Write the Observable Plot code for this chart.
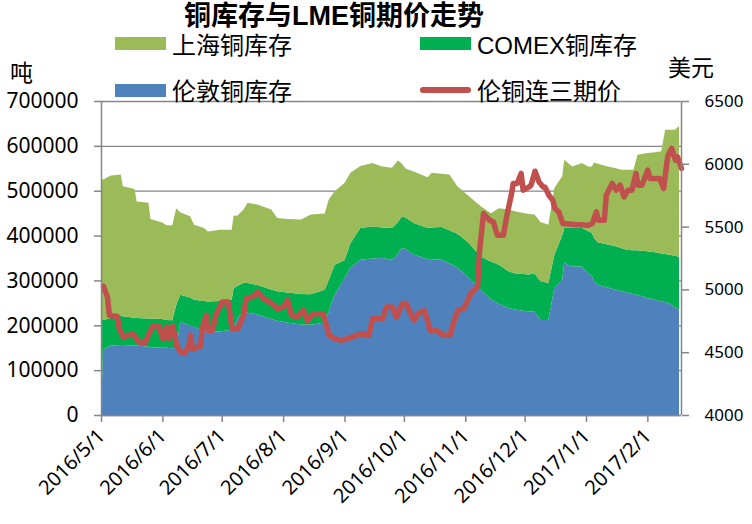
<!DOCTYPE html>
<html><head><meta charset="utf-8">
<script src="https://cdn.jsdelivr.net/npm/d3@7"></script>
<script src="https://cdn.jsdelivr.net/npm/@observablehq/plot@0.6"></script>
<style>
body{margin:0;background:#fff;}
#wrap{position:relative;width:752px;height:524px;overflow:hidden;}
#wrap svg{position:absolute;left:0;top:0;}
.t{position:absolute;white-space:nowrap;line-height:1;color:#000;font-family:'Liberation Sans Narrow','Liberation Sans','Noto Sans CJK SC',sans-serif;}
.sw{position:absolute;}
</style></head><body><div id="wrap"></div>
<script>
// stock dates (shared by the three stacked series)
const dates = ["2016-05-01","2016-05-02","2016-05-06","2016-05-11","2016-05-12","2016-05-18","2016-05-19","2016-05-25","2016-05-26","2016-06-01","2016-06-03","2016-06-06","2016-06-08","2016-06-10","2016-06-15","2016-06-17","2016-06-22","2016-06-24","2016-06-30","2016-07-06","2016-07-07","2016-07-09","2016-07-12","2016-07-14","2016-07-19","2016-07-26","2016-07-29","2016-08-03","2016-08-10","2016-08-15","2016-08-22","2016-08-24","2016-08-27","2016-09-01","2016-09-04","2016-09-09","2016-09-15","2016-09-20","2016-09-25","2016-09-28","2016-09-30","2016-10-02","2016-10-06","2016-10-13","2016-10-15","2016-10-20","2016-10-24","2016-10-28","2016-11-02","2016-11-09","2016-11-14","2016-11-18","2016-11-23","2016-11-26","2016-12-03","2016-12-06","2016-12-09","2016-12-13","2016-12-16","2016-12-20","2016-12-21","2016-12-25","2016-12-30","2017-01-02","2017-01-04","2017-01-05","2017-01-07","2017-01-12","2017-01-16","2017-01-19","2017-01-22","2017-01-25","2017-01-27","2017-02-01","2017-02-05","2017-02-08","2017-02-10","2017-02-12","2017-02-15","2017-02-17"];
// tonnes
const lmeStock = [0,145000,155000,156000,156000,155000,155000,152000,151000,150000,150000,149000,150000,207000,200000,197000,186000,186000,186000,190000,191000,216000,231000,228000,224000,214000,210000,206000,202000,201000,206000,230000,268000,305000,328000,346000,349000,350000,346000,360000,372000,370000,357000,348000,347000,346000,338000,329000,309000,279000,258000,248000,238000,235000,231000,231000,212000,212000,283000,301000,339000,331000,331000,316000,310000,300000,290000,284000,279000,276000,273000,269000,268000,261000,257000,253000,252000,249000,240000,234000];
const comexStock = [212000,67000,61000,65000,64000,62000,61000,63000,64000,64000,62000,62000,95000,61000,62000,60000,68000,67000,68000,67000,92000,72000,64000,66000,66000,66000,66000,67000,68000,68000,73000,70000,67000,40000,55000,71000,71000,68000,71000,70000,71000,70000,71000,69000,71000,73000,74000,75000,78000,74000,84000,87000,82000,81000,82000,85000,86000,82000,74000,99000,78000,86000,86000,94000,96000,95000,95000,96000,97000,96000,95000,98000,99000,104000,106000,107000,107000,108000,115000,119000];
const shfeStock = [313000,313000,318000,315000,290000,287000,260000,258000,222000,215000,211000,212000,216000,184000,181000,167000,163000,156000,159000,156000,161000,157000,163000,179000,179000,178000,163000,164000,166000,178000,170000,180000,164000,172000,157000,138000,142000,136000,134000,138000,117000,109000,115000,113000,122000,119000,124000,106000,104000,112000,108000,126000,138000,138000,135000,131000,132000,130000,149000,132000,152000,137000,145000,144000,148000,168000,175000,174000,174000,175000,179000,180000,213000,219000,223000,228000,277000,279000,281000,291000];

// LME 3-month copper price, USD
const priceDates = ["2016-05-02","2016-05-04","2016-05-05","2016-05-09","2016-05-10","2016-05-12","2016-05-14","2016-05-17","2016-05-20","2016-05-23","2016-05-25","2016-05-27","2016-05-30","2016-06-01","2016-06-03","2016-06-04","2016-06-06","2016-06-08","2016-06-10","2016-06-12","2016-06-14","2016-06-15","2016-06-16","2016-06-20","2016-06-21","2016-06-23","2016-06-24","2016-06-26","2016-06-28","2016-07-01","2016-07-04","2016-07-06","2016-07-09","2016-07-12","2016-07-13","2016-07-16","2016-07-19","2016-07-22","2016-07-26","2016-07-29","2016-08-01","2016-08-03","2016-08-05","2016-08-08","2016-08-11","2016-08-13","2016-08-16","2016-08-21","2016-08-24","2016-08-27","2016-08-30","2016-09-04","2016-09-09","2016-09-13","2016-09-15","2016-09-20","2016-09-22","2016-09-25","2016-09-27","2016-09-30","2016-10-02","2016-10-05","2016-10-06","2016-10-08","2016-10-11","2016-10-12","2016-10-14","2016-10-17","2016-10-21","2016-10-24","2016-10-26","2016-10-28","2016-10-31","2016-11-02","2016-11-04","2016-11-07","2016-11-08","2016-11-10","2016-11-13","2016-11-15","2016-11-17","2016-11-20","2016-11-22","2016-11-24","2016-11-25","2016-11-27","2016-11-29","2016-11-30","2016-12-03","2016-12-04","2016-12-06","2016-12-08","2016-12-10","2016-12-11","2016-12-13","2016-12-15","2016-12-16","2016-12-18","2016-12-20","2016-12-26","2017-01-02","2017-01-04","2017-01-06","2017-01-07","2017-01-10","2017-01-11","2017-01-14","2017-01-16","2017-01-18","2017-01-20","2017-01-22","2017-01-24","2017-01-26","2017-01-27","2017-01-29","2017-02-01","2017-02-02","2017-02-07","2017-02-09","2017-02-11","2017-02-13","2017-02-15","2017-02-16","2017-02-18"];
const lmePrice = [5029,4943,4797,4789,4691,4624,4638,4646,4585,4577,4651,4712,4712,4612,4704,4612,4712,4558,4505,4497,4545,4638,4530,4550,4704,4797,4678,4678,4811,4904,4904,4691,4691,4811,4930,4943,4983,4930,4891,4851,4864,4917,4797,4784,4837,4757,4811,4811,4638,4611,4598,4620,4651,4638,4771,4771,4864,4864,4784,4891,4891,4784,4757,4811,4837,4797,4678,4678,4638,4638,4744,4837,4851,4917,4983,5023,5316,5608,5555,5541,5435,5435,5608,5754,5848,5848,5927,5794,5820,5834,5945,5860,5820,5820,5754,5714,5648,5621,5529,5521,5515,5529,5621,5555,5555,5754,5848,5794,5834,5741,5794,5794,5927,5834,5834,5954,5887,5887,5808,6060,6126,6033,6060,5967];

const seriesNames = ["伦敦铜库存","COMEX铜库存","上海铜库存"];
const seriesColors = ["#4F81BD","#00B050","#9BBB59"];
const priceName = "伦铜连三期价";
const priceColor = "#C0504D";
const leftTicks = [0,100000,200000,300000,400000,500000,600000,700000];
const rightTicks = [4000,4500,5000,5500,6000,6500];
const monthTicks = ["2016-05-01","2016-06-01","2016-07-01","2016-08-01","2016-09-01","2016-10-01","2016-11-01","2016-12-01","2017-01-01","2017-02-01"];
const xStart = "2016-05-01", xEnd = "2017-02-18";

const rows = [];
dates.forEach((d, i) => {
  const date = new Date(d);
  rows.push({date, series: seriesNames[0], v: lmeStock[i]});
  rows.push({date, series: seriesNames[1], v: comexStock[i]});
  rows.push({date, series: seriesNames[2], v: shfeStock[i]});
});
const priceRows = priceDates.map((d, i) => ({date: new Date(d), p: lmePrice[i]}));
// price mapped onto the stock scale: 4000..6500 USD  <->  0..700000 t
const toLeft = p => (p - 4000) * 700000 / 2500;
const fromLeft = v => v * 2500 / 700000 + 4000;
const gray = "#868686";

const chart = Plot.plot({
  width: 752, height: 524,
  marginLeft: 101, marginRight: 71, marginTop: 101, marginBottom: 109,
  style: {fontFamily: "'Noto Sans', sans-serif", color: "#000", background: "transparent", overflow: "visible"},
  x: {type: "utc", domain: [new Date(xStart), new Date(xEnd)]},
  y: {domain: [0, 700000], label: null},
  color: {domain: seriesNames, range: seriesColors},
  marks: [
    Plot.ruleY(leftTicks, {stroke: gray, strokeWidth: 1.3}),
    Plot.areaY(rows, {x: "date", y: "v", fill: "series", z: "series", order: seriesNames}),
    Plot.line(priceRows, {x: "date", y: d => toLeft(d.p), stroke: priceColor, strokeWidth: 5.5, strokeLinejoin: "round", strokeLinecap: "round"}),
    Plot.ruleX([new Date(xStart)], {stroke: gray, strokeWidth: 1.5}),
    Plot.ruleX([new Date(xEnd)], {stroke: gray, strokeWidth: 1.5}),
    Plot.ruleY([0], {stroke: gray, strokeWidth: 1.5}),
    Plot.axisY(leftTicks, {anchor: "left", tickSize: 7, tickPadding: 16, fontSize: 21, stroke: gray, strokeWidth: 1.5, fill: "#000", tickFormat: d => String(d), label: null}),
    Plot.axisY(rightTicks.map(toLeft), {anchor: "right", tickSize: 7, tickPadding: 16, fontSize: 17, stroke: gray, strokeWidth: 1.5, fill: "#000", tickFormat: v => String(Math.round(fromLeft(v))), label: null}),
    Plot.axisX(monthTicks.map(d => new Date(d)), {tickRotate: -45, tickSize: 7, tickPadding: 10, fontSize: 20, stroke: gray, strokeWidth: 1.5, fill: "#000", tickFormat: d3.utcFormat("%Y/%-m/%-d"), label: null})
  ]
});
const wrap = document.getElementById("wrap");
wrap.appendChild(chart);

function text(str, left, top, size, extra) {
  const el = document.createElement("div");
  el.className = "t";
  el.textContent = str;
  el.style.left = left + "px";
  el.style.top = top + "px";
  el.style.fontSize = size + "px";
  if (extra) Object.assign(el.style, extra);
  wrap.appendChild(el);
}
function swatch(left, top, w, h, color, extra) {
  const el = document.createElement("div");
  el.className = "sw";
  Object.assign(el.style, {left: left + "px", top: top + "px", width: w + "px", height: h + "px", background: color}, extra || {});
  wrap.appendChild(el);
}
text("铜库存与LME铜期价走势", 184, 3, 27, {fontWeight: "bold"});
swatch(115, 37, 51, 13, seriesColors[2]);
text(seriesNames[2], 172, 34, 24);
swatch(420, 37, 51, 13, seriesColors[1]);
text(seriesNames[1], 477, 34, 24);
swatch(115, 84, 51, 13, seriesColors[0]);
text(seriesNames[0], 172, 80, 24);
swatch(420, 87, 51, 6, priceColor, {borderRadius: "3px"});
text(priceName, 477, 80, 24);
text("吨", 10, 62, 23);
text("美元", 668, 57, 23);
</script></body></html>
